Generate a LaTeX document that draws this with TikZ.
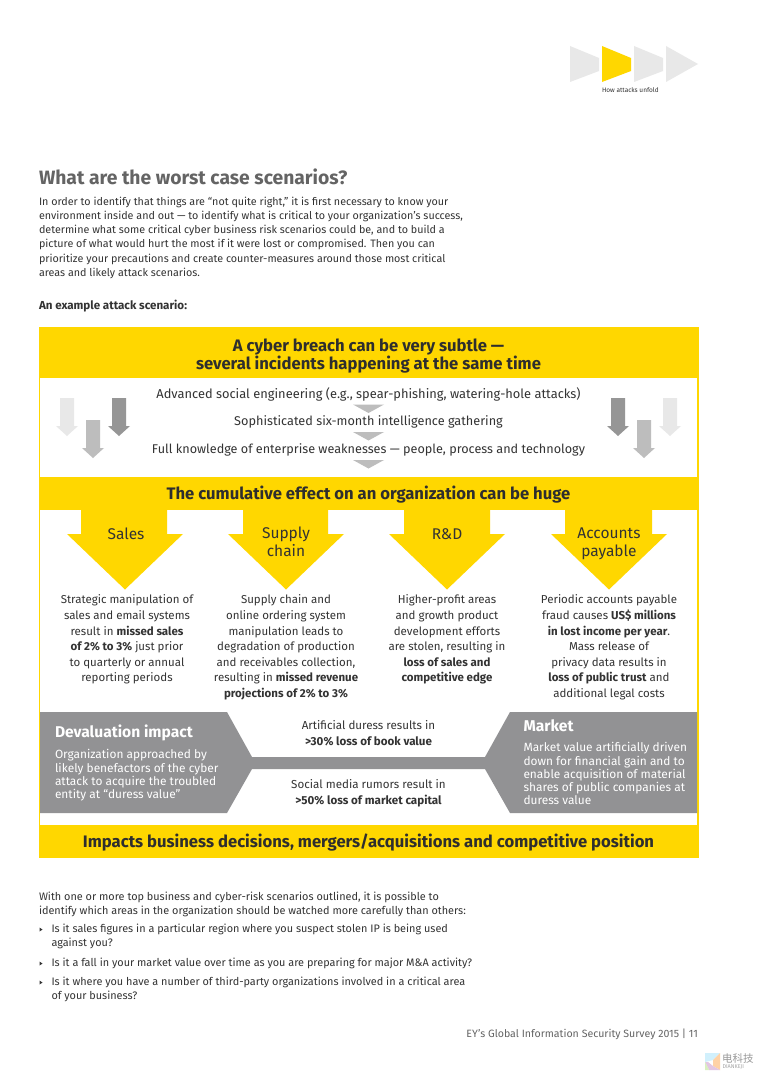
\documentclass[tikz,border=0pt]{standalone}
\usepackage{fontspec}
\setmainfont{Fira Sans}
\newfontfamily\cjkfont{Noto Sans CJK SC}
\definecolor{eyyellow}{HTML}{FFD700}
\definecolor{eygrey}{HTML}{929294}
\definecolor{eyink}{HTML}{333333}
\definecolor{eytitle}{HTML}{646464}
\definecolor{eylight}{HTML}{E8E8E8}
\definecolor{eymid}{HTML}{BDBDBD}
\definecolor{eydark}{HTML}{969696}
\newcommand{\fs}[2]{\fontsize{#1}{#2}\selectfont}
\tikzset{
  x=1pt,y=-1pt,
  txt/.style={inner sep=0pt,outer sep=0pt,text=eyink},
  body/.style={txt,anchor=north west,align=left,font=\fs{10.87}{14.2}},
  introbody/.style={body,font=\fs{10.75}{14.2}},
  band/.style={txt,anchor=center,align=center,font=\bfseries\fs{16.65}{18},text=eyink!90!black},
  stepline/.style={txt,anchor=center,font=\fs{12.7}{15}},
  column/.style={txt,anchor=north,align=center,font=\fs{11.5}{15.6}},
  arrowtitle/.style={txt,anchor=center,align=center,font=\fs{15.5}{18}},
  mid/.style={txt,anchor=center,align=center,font=\fs{11.6}{15.6}},
  greytitle/.style={txt,anchor=west,font=\bfseries\fs{15.6}{18},text=white},
  greybody/.style={txt,anchor=north west,align=left,font=\fs{11.9}{13.3},text=white},
}
\begin{document}
\begin{tikzpicture}
\useasboundingbox (0,0) rectangle (760,1075);
\fill[white] (0,0) rectangle (760,1075);
% logo
\fill[eylight] (570,46) -- (599,58) -- (599,71) -- (570,82) -- cycle;
\fill[eyyellow] (602,46) -- (631,58) -- (631,71) -- (602,82) -- cycle;
\fill[eylight] (634,46) -- (663,58) -- (663,71) -- (634,82) -- cycle;
\fill[eylight] (666,46) -- (698,64) -- (666,82) -- cycle;
\node[txt,anchor=west,font=\fs{6.5}{7}] (howattacks) at (602,90) {How attacks unfold};
% intro
\node[txt,anchor=west,font=\bfseries\fs{19.3}{22},text=eytitle] (title) at (39,177) {What are the worst case scenarios?};
\node[introbody] (intro) at (39,197) {In order to identify that things are “not quite right,” it is first necessary to know your\\
environment inside and out — to identify what is critical to your organization’s success,\\
determine what some critical cyber business risk scenarios could be, and to build a\\
picture of what would hurt the most if it were lost or compromised. Then you can\\
prioritize your precautions and create counter-measures around those most critical\\
areas and likely attack scenarios.};
\node[txt,anchor=west,font=\bfseries\fs{11.6}{13}] (example) at (39,306.5) {An example attack scenario:};
% frame
\fill[eyyellow] (38.5,327) rectangle (698.5,858);
\fill[white] (40,378) rectangle (697,477);
\fill[white] (40,510) rectangle (697,825);
% yellow chevrons
\foreach \l/\r/\c in {81/167/125,243/328/286,404/490/447,565/652/609}{
  \fill[eyyellow] (\l,509) -- (\l,534) -- ({\c-58},534) -- (\c,589.5) -- ({\c+58},534) -- (\r,534) -- (\r,509) -- cycle;
}
\node[band] (head1) at (368.5,356) {A cyber breach can be very subtle —\\several incidents happening at the same time};
\node[band] (head2) at (368.5,494.5) {The cumulative effect on an organization can be huge};
\node[band] (head3) at (368.5,842.5) {Impacts business decisions, mergers/acquisitions and competitive position};
% steps
\node[stepline,font=\fs{12.85}{15}] (s1) at (368.5,394.5) {Advanced social engineering (e.g., spear-phishing, watering-hole attacks)};
\node[stepline] (s2) at (368.5,422) {Sophisticated six-month intelligence gathering};
\node[stepline,font=\fs{12.65}{15}] (s3) at (368.5,449.5) {Full knowledge of enterprise weaknesses — people, process and technology};
\foreach \y in {404.5,432,460}{
  \fill[eymid] (353,\y) -- (384,\y) -- (368.5,{\y+8.5}) -- cycle;
}
% side arrows
\foreach \cx/\top/\col in {67/398/eylight,93/420/eymid,119/398/eydark,618/398/eydark,644/420/eymid,670/398/eylight}{
  \fill[\col] ({\cx-7},\top) -- ({\cx+7},\top) -- ({\cx+7},{\top+28}) -- ({\cx+11},{\top+28}) -- (\cx,{\top+38}) -- ({\cx-11},{\top+28}) -- ({\cx-7},{\top+28}) -- cycle;
}
% columns
\node[arrowtitle] (salesT) at (126,534) {Sales};
\node[arrowtitle] (supplyT) at (286,542) {Supply\\chain};
\node[arrowtitle] (rdT) at (447,534) {R\&D};
\node[arrowtitle] (apT) at (609,544) {Accounts\\payable};
\node[column] (c1) at (127,595) {Strategic manipulation of\\sales and email systems\\result in \textbf{missed sales}\\\textbf{of 2\% to 3\%} just prior\\to quarterly or annual\\reporting periods};
\node[column] (c2) at (286,595) {Supply chain and\\online ordering system\\manipulation leads to\\degradation of production\\and receivables collection,\\resulting in \textbf{missed revenue}\\\textbf{projections of 2\% to 3\%}};
\node[column] (c3) at (447,595) {Higher-profit areas\\and growth product\\development efforts\\are stolen, resulting in\\\textbf{loss of sales and}\\\textbf{competitive edge}};
\node[column] (c4) at (609,595) {Periodic accounts payable\\fraud causes \textbf{US\$ millions}\\\textbf{in lost income per year}.\\Mass release of\\privacy data results in\\\textbf{loss of public trust} and\\additional legal costs};
% grey bar
\fill[eygrey] (40,712) -- (227,712) -- (252,757) -- (485,757) -- (510,712) -- (697,712) -- (697,813) -- (510,813) -- (485,769) -- (252,769) -- (227,813) -- (40,813) -- cycle;
\node[greytitle] (devT) at (55,732.5) {Devaluation impact};
\node[greybody] (devB) at (55,749.5) {Organization approached by\\likely benefactors of the cyber\\attack to acquire the troubled\\entity at “duress value”};
\node[greytitle] (mktT) at (523.5,726) {Market};
\node[greybody] (mktB) at (523.5,742.5) {Market value artificially driven\\down for financial gain and to\\enable acquisition of material\\shares of public companies at\\duress value};
\node[mid] (m1) at (368.5,733) {Artificial duress results in\\\textbf{>30\% loss of book value}};
\node[mid] (m2) at (368.5,793.5) {Social media rumors result in\\\textbf{>50\% loss of market capital}};
% closing text
\node[body] (after) at (39,892) {With one or more top business and cyber-risk scenarios outlined, it is possible to\\identify which areas in the organization should be watched more carefully than others:};
\node[body] (b1) at (51.5,924) {Is it sales figures in a particular region where you suspect stolen IP is being used\\against you?};
\node[body] (b2) at (51.5,958) {Is it a fall in your market value over time as you are preparing for major M\&A activity?};
\node[body] (b3) at (51.5,977) {Is it where you have a number of third-party organizations involved in a critical area\\of your business?};
\foreach \y in {929.5,963.5,982.5}{\fill[eyink] (39.5,{\y-2}) -- (42.5,\y) -- (39.5,{\y+2}) -- cycle;}
\node[txt,anchor=east,font=\fs{10.6}{12},text=eytitle] (foot) at (698,1034) {EY’s Global Information Security Survey 2015 | 11};
% watermark
\fill[cyan!18] (705,1053) -- (720,1053) -- (713,1060) -- (705,1062) -- cycle;
\fill[orange!35] (713,1060) -- (720,1053) -- (720,1070) -- (713,1066) -- cycle;
\fill[violet!22] (705,1062) -- (708,1062) -- (713,1066) -- (720,1070) -- (709,1070) -- cycle;
\fill[yellow!40!green!25] (705,1062) -- (705,1070) -- (709,1070) -- cycle;
\node[txt,anchor=west,font=\cjkfont\fs{10.5}{12},text=black!40] (wm1) at (722,1058) {电科技};
\node[txt,anchor=west,font=\fs{5.5}{7},text=black!35] (wm2) at (722.5,1067) {DIANKEJI};
\end{tikzpicture}
\end{document}
